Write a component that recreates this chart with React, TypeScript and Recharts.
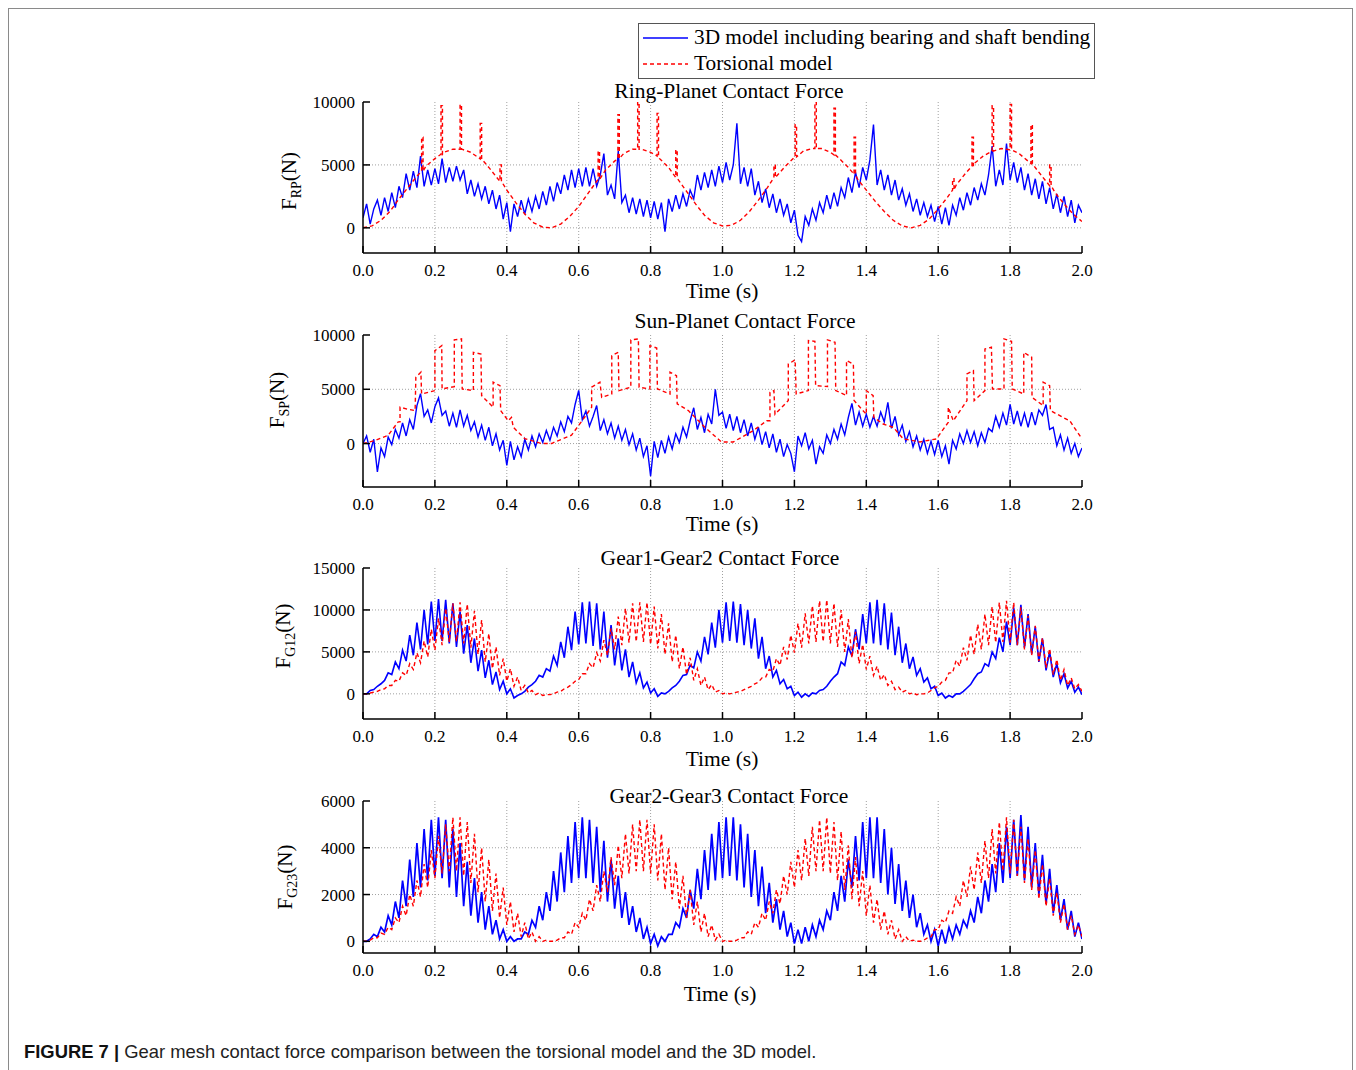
import React from "react";
import { LineChart, Line, XAxis, YAxis, CartesianGrid } from "recharts";

const SERIF = '"Liberation Serif", "Times New Roman", Times, serif';
const SANS = '"Liberation Sans", Arial, Helvetica, sans-serif';

const TIME_TICKS = [0, 0.2, 0.4, 0.6, 0.8, 1.0, 1.2, 1.4, 1.6, 1.8, 2.0];
const TIME_GRID = [0.2, 0.4, 0.6, 0.8, 1.0, 1.2, 1.4, 1.6, 1.8];

const RP_TICKS = [0, 5000, 10000];
const SP_TICKS = [0, 5000, 10000];
const G12_TICKS = [0, 5000, 10000, 15000];
const G23_TICKS = [0, 2000, 4000, 6000];

// ---------- Ring-Planet (3D model, sampled every 0.01 s) ----------
const RP_BLUE = [
  800, 1900, 300, 1500, 2200, 1000, 2400, 1300, 2800, 1600,
  3300, 2400, 4300, 3000, 4500, 3200, 5700, 3300, 4600, 3400,
  4700, 3500, 5500, 3600, 4800, 3700, 4900, 3800, 4600, 2700,
  3800, 2500, 3500, 2300, 3300, 1900, 3000, 1500, 2600, 700,
  2000, -300, 1900, 900, 2200, 1100, 2300, 1300, 2500, 1500,
  2900, 1800, 3300, 2100, 3600, 2700, 4200, 3000, 4600, 3200,
  4700, 3300, 4800, 3300, 4700, 3300, 4200, 5900, 2600, 3400,
  2300, 6100, 2000, 2600, 1200, 2400, 1100, 2300, 900, 2200,
  800, 2100, 700, 2000, -300, 2300, 1300, 2600, 1500, 2700,
  1700, 3000, 2300, 4200, 3000, 4400, 3200, 4600, 3300, 4900,
  3600, 5200, 3800, 5000, 8300, 3500, 4800, 3300, 4700, 2600,
  3700, 2000, 3100, 1600, 2700, 1200, 2300, 1000, 1900, 400,
  1400, -600, -1100, 900, 200, 1500, 600, 2000, 1200, 2600,
  1500, 2800, 1700, 3200, 2400, 4000, 2800, 4400, 3200, 4800,
  3800, 5400, 8200, 3400, 4600, 3000, 4200, 2600, 3800, 2200,
  3100, 1800, 2700, 1300, 2300, 1000, 2000, 900, 1800, 500,
  1700, 300, 1600, 200, 1800, 1000, 2400, 1400, 2800, 1800,
  3200, 2200, 3500, 2600, 4200, 6500, 3300, 4600, 3400, 6700,
  3800, 5200, 3600, 4800, 3000, 4300, 2600, 3900, 2300, 3700,
  1900, 3200, 1500, 2700, 1200, 2500, 900, 2200, 400, 1800,
  1200,
];

// Torsional model: smooth curve every 0.025 s, plus spikes [time, base, top]
const RP_RED_BASE = [
  0, 150, 600, 1300, 2300, 3200, 4100, 4900, 5500, 6000,
  6250, 6250, 6000, 5500, 4800, 3900, 3000, 2000, 1100, 400,
  50, 0, 300, 900, 1700, 2700, 3700, 4600, 5300, 5900,
  6250, 6250, 6000, 5500, 4800, 3900, 2900, 1900, 1000, 400,
  150, 200, 600, 1300, 2200, 3200, 4100, 4900, 5600, 6100,
  6300, 6300, 6000, 5500, 4800, 3900, 3000, 2100, 1300, 600,
  150, 0, 200, 700, 1500, 2400, 3400, 4300, 5100, 5700,
  6100, 6300, 6200, 5900, 5300, 4600, 3700, 2800, 1900, 1100,
  500,
];
const RP_RED_SPIKES = [
  [0.163, 4500, 7200], [0.217, 5850, 9700], [0.27, 6250, 9800], [0.326, 5480, 8300], [0.381, 3700, 5000],
  [0.654, 3850, 6100], [0.709, 5500, 9000], [0.764, 6250, 10000], [0.818, 5700, 9100], [0.87, 4000, 6200],
  [1.143, 4000, 5000], [1.202, 5640, 8200], [1.257, 6300, 10000], [1.31, 5800, 9500], [1.366, 4250, 7200],
  [1.64, 3000, 3900], [1.694, 4900, 7200], [1.75, 6100, 9700], [1.8, 6200, 9800], [1.858, 5100, 8200], [1.91, 3350, 5000],
];

// ---------- Sun-Planet ----------
const SP_BLUE = [
  0, 700, -800, 400, -2600, -400, -1200, 600, -100, 1300,
  500, 1900, 700, 2200, 1300, 3500, 4600, 2500, 3100, 1900,
  3400, 4200, 2600, 3000, 1600, 2800, 1500, 3100, 1600, 2600,
  1200, 2000, 600, 1700, 300, 1500, -200, 900, -600, 300,
  -2000, 200, -1500, -300, -1200, 400, -600, 700, -300, 900,
  100, 1200, 300, 1500, 700, 2000, 1100, 2500, 1900, 3600,
  4900, 2200, 3000, 1600, 2500, 3500, 1200, 2200, 900, 1900,
  500, 1600, 300, 1300, -100, 900, -600, 500, -1200, -200,
  -3000, 200, -1300, 300, -900, 600, -500, 900, 100, 1500,
  600, 2100, 3300, 1300, 2400, 1000, 2700, 1800, 5000, 2600,
  2900, 1400, 2700, 1200, 2500, 1000, 2200, 700, 1900, 400,
  1500, -100, 1100, -400, 900, -800, 400, -1200, -100, -900,
  -2600, 700, -200, 1000, -500, 300, -1900, -300, -900, 800,
  0, 1300, 400, 1800, 800, 2400, 3700, 1700, 2900, 1600,
  2700, 1500, 2500, 1600, 2900, 2000, 3800, 1400, 2500, 800,
  1700, 200, 1100, -300, 700, -600, 400, -900, 200, -1000,
  300, -1200, -200, -1900, 300, -500, 900, 0, 1200, 100,
  1100, -200, 1000, 100, 1400, 1100, 2500, 1500, 2800, 1700,
  3600, 1800, 3000, 1600, 2800, 1500, 2900, 1700, 3100, 2600,
  3600, 1300, 1500, -200, 800, -600, 500, -900, 0, -1200,
  -400,
];

// Torsional model [time, force]
const SP_RED = [
  [0, 0], [0.035, 300], [0.07, 770], [0.098, 2000], [0.103, 2000], [0.103, 3350], [0.12, 3200], [0.145, 3040],
  [0.147, 6100], [0.161, 6570], [0.163, 4570], [0.2, 4880], [0.2, 8560], [0.219, 9020], [0.22, 5030],
  [0.254, 5250], [0.254, 9550], [0.274, 9640], [0.276, 5030], [0.307, 4880], [0.307, 8400], [0.328, 8250],
  [0.33, 4420], [0.362, 3350], [0.362, 5650], [0.381, 5340], [0.383, 3040], [0.404, 2100], [0.413, 2400],
  [0.418, 1500], [0.45, 460], [0.497, 0], [0.525, 0],
  [0.534, 150], [0.58, 770], [0.617, 2450], [0.636, 3350], [0.636, 5200], [0.659, 5650], [0.664, 4260],
  [0.692, 4570], [0.692, 8100], [0.71, 8400], [0.712, 4880], [0.745, 5190], [0.745, 9550], [0.766, 9640],
  [0.768, 5190], [0.798, 5030], [0.798, 9020], [0.817, 8800], [0.819, 5030], [0.854, 4570], [0.854, 6570],
  [0.872, 6260], [0.874, 3660], [0.905, 3040], [0.951, 1500], [0.997, 150],
  [1.03, 150], [1.086, 1200], [1.123, 2100], [1.132, 2100], [1.132, 4720], [1.143, 4880], [1.146, 2700],
  [1.183, 3960], [1.183, 7330], [1.202, 7700], [1.205, 4570], [1.239, 4880], [1.239, 9480], [1.257, 9420],
  [1.259, 5340], [1.292, 5250], [1.292, 9550], [1.313, 9330], [1.315, 4880], [1.345, 4420], [1.345, 7640],
  [1.364, 7330], [1.366, 3960], [1.4, 2700], [1.4, 4880], [1.419, 4420], [1.421, 2400], [1.447, 1800],
  [1.475, 1500], [1.503, 430], [1.549, 150], [1.595, 430],
  [1.628, 1960], [1.628, 3350], [1.642, 2100], [1.68, 3960], [1.68, 6410], [1.698, 6720], [1.7, 3960],
  [1.73, 4880], [1.73, 8710], [1.748, 8870], [1.751, 5030], [1.783, 5030], [1.783, 9640], [1.804, 9420],
  [1.806, 5030], [1.838, 4570], [1.838, 8400], [1.86, 7950], [1.861, 4260], [1.892, 3500], [1.892, 5650],
  [1.91, 5340], [1.912, 3040], [1.948, 2400], [1.966, 2100], [2.0, 430],
];

// ---------- Gear1-Gear2 (low points every 0.02 s, high points in between) ----------
const G12_BLUE_LOW = [
  0, 400, 900, 1600, 2300, 3000, 3900, 4600, 5300, 5900,
  6300, 6300, 6000, 5600, 4800, 3700, 2700, 1900, 1100, 500,
  0, -500, 0, 800, 1500, 2000, 2700, 3400, 4300, 5200,
  5900, 6000, 5700, 5300, 4300, 3400, 2800, 2000, 1300, 700,
  100, -300, 0, 700, 1500, 2300, 3100, 3900, 4700, 5500,
  6100, 6300, 6100, 5800, 5400, 4200, 3000, 2000, 1200, 600,
  -200, -400, -300, 0, 500, 1500, 2400, 3400, 4500, 5300,
  6000, 6000, 5800, 5300, 4600, 3700, 3000, 2200, 1400, 600,
  -200, -500, -400, 0, 700, 1800, 2600, 3300, 4200, 5000,
  5800, 5800, 5500, 4800, 3800, 2800, 2000, 1300, 700, 200,
  -100,
];
const G12_BLUE_HIGH = [
  0, 500, 1200, 2500, 3800, 5200, 7000, 8500, 10000, 11000,
  11300, 11200, 10800, 9800, 8200, 6600, 5200, 4000, 2600, 1500,
  600, -200, 300, 1100, 2200, 3000, 4500, 6200, 8000, 9800,
  10900, 11000, 10800, 9800, 8200, 6600, 5300, 3800, 2500, 1400,
  600, 100, 300, 1000, 2200, 3400, 5000, 6800, 8500, 10000,
  10900, 11000, 10700, 10000, 9000, 6800, 4500, 2800, 1700, 900,
  200, 0, 100, 400, 900, 2000, 3800, 5600, 7700, 9500,
  10900, 11200, 10800, 9700, 8000, 6000, 4400, 3000, 1900, 900,
  100, -200, 0, 300, 1100, 2400, 3600, 5000, 6700, 8600,
  10300, 10600, 9500, 8000, 6600, 5000, 3600, 2400, 1500, 800,
];
const G12_RED_LOW = [
  0, 100, 300, 600, 1000, 1500, 2200, 2900, 3700, 4400,
  5200, 5800, 6200, 6200, 6000, 5500, 4700, 3800, 3000, 2200,
  1500, 900, 400, 100, -100, -200, -100, 200, 600, 1100,
  1700, 2400, 3100, 3900, 4600, 5300, 5800, 6100, 6200, 6200,
  5900, 5400, 4700, 3800, 3000, 2300, 1600, 1000, 500, 200,
  0, 0, 200, 500, 900, 1400, 2000, 2700, 3400, 4100,
  4900, 5500, 6000, 6200, 6200, 6000, 5600, 5000, 4300, 3600,
  2900, 2200, 1600, 1000, 500, 200, 0, -100, 0, 400,
  900, 1600, 2500, 3300, 4000, 4700, 5300, 5800, 6100, 6200,
  6100, 5800, 5300, 4600, 3900, 3100, 2300, 1600, 1000, 600,
  300,
];
const G12_RED_HIGH = [
  0, 200, 500, 1000, 1600, 2500, 3600, 4900, 6300, 7700,
  9000, 10200, 10800, 10900, 10700, 9900, 8800, 7200, 5600, 4200,
  3000, 2000, 1000, 400, 100, -100, 0, 300, 800, 1500,
  2400, 3600, 4900, 6400, 7800, 9200, 10200, 10800, 10900, 10900,
  10400, 9500, 8400, 7000, 5600, 4300, 3000, 2000, 1100, 400,
  100, 100, 300, 700, 1200, 1900, 2900, 4200, 5600, 7000,
  8400, 9600, 10500, 11100, 11200, 10800, 10000, 8900, 7400, 5900,
  4500, 3300, 2300, 1500, 800, 400, 100, 0, 100, 700,
  1400, 2500, 4000, 5500, 7000, 8300, 9500, 10400, 10900, 11100,
  10900, 10300, 9300, 8100, 6700, 5400, 4100, 2900, 1900, 1100,
];

// ---------- Gear2-Gear3 ----------
const G23_BLUE_LOW = [
  0, 100, 200, 400, 700, 1000, 1500, 1900, 2300, 2600,
  2800, 2700, 2300, 1900, 1500, 1100, 800, 500, 300, 100,
  0, 0, 100, 300, 600, 900, 1300, 1700, 2100, 2500,
  2700, 2700, 2500, 2100, 1700, 1400, 1000, 700, 400, 100,
  -100, -200, 0, 300, 600, 1000, 1400, 1800, 2200, 2600,
  2700, 2800, 2600, 2300, 1900, 1500, 1200, 800, 500, 200,
  -100, -100, 0, 200, 500, 900, 1300, 1700, 2300, 2600,
  2700, 2700, 2500, 2000, 1600, 1300, 1000, 600, 300, 0,
  -200, -100, 100, 300, 600, 800, 1200, 1700, 2100, 2500,
  2700, 2800, 2600, 2300, 2000, 1600, 1200, 900, 500, 200,
  100,
];
const G23_BLUE_HIGH = [
  0, 300, 600, 1100, 1700, 2600, 3500, 4200, 4800, 5200,
  5300, 5200, 4800, 4200, 3400, 2700, 2100, 1500, 900, 500,
  200, 100, 400, 900, 1500, 2100, 3000, 3800, 4500, 5100,
  5300, 5200, 4900, 4300, 3500, 2800, 2100, 1500, 1000, 600,
  300, 200, 300, 800, 1400, 2200, 3100, 3900, 4600, 5100,
  5300, 5300, 5000, 4600, 3900, 3200, 2500, 1800, 1300, 800,
  500, 600, 700, 900, 1300, 2100, 2800, 3500, 4500, 5100,
  5300, 5300, 4800, 4000, 3300, 2600, 2000, 1200, 700, 500,
  500, 600, 700, 900, 1300, 1900, 2600, 3300, 4200, 4900,
  5200, 5400, 4900, 4200, 3700, 3100, 2400, 1800, 1300, 800,
];
const G23_RED_LOW = [
  0, 50, 150, 300, 500, 800, 1100, 1500, 1900, 2300,
  2700, 2900, 3000, 3000, 2800, 2500, 2100, 1700, 1300, 1000,
  700, 400, 200, 100, 0, 0, 0, 50, 150, 300,
  600, 900, 1300, 1700, 2100, 2400, 2700, 2900, 3000, 3000,
  2900, 2600, 2200, 1800, 1400, 1000, 700, 400, 200, 50,
  0, 0, 50, 150, 300, 600, 900, 1200, 1600, 2000,
  2300, 2600, 2800, 3000, 3000, 2900, 2600, 2200, 1800, 1500,
  1100, 800, 500, 300, 100, 0, 0, 0, 50, 200,
  500, 800, 1200, 1500, 1900, 2200, 2500, 2700, 2900, 3000,
  2900, 2800, 2500, 2200, 1800, 1500, 1100, 800, 500, 300,
  200,
];
const G23_RED_HIGH = [
  0, 150, 350, 600, 1000, 1500, 2000, 2600, 3300, 3900,
  4500, 5000, 5300, 5300, 5100, 4600, 4000, 3500, 2900, 2300,
  1700, 1200, 800, 400, 200, 50, 0, 150, 400, 800,
  1200, 1800, 2400, 3000, 3600, 4100, 4600, 5000, 5200, 5200,
  5000, 4600, 4000, 3400, 2800, 2200, 1700, 1200, 700, 300,
  50, 0, 150, 400, 800, 1200, 1700, 2200, 2800, 3400,
  3900, 4400, 4900, 5200, 5300, 5100, 4700, 4100, 3600, 3000,
  2400, 1800, 1300, 900, 500, 200, 50, 0, 150, 500,
  900, 1300, 1900, 2600, 3200, 3800, 4300, 4800, 5100, 5300,
  5200, 4900, 4400, 3900, 3300, 2700, 2100, 1600, 1100, 700,
];

type Pt = { t: number; v: number };

const uniform = (vals: number[], step: number): Pt[] =>
  vals.map((v, i) => ({ t: Math.round(i * step * 10000) / 10000, v }));

const interleave = (low: number[], high: number[], step: number): Pt[] => {
  const out: Pt[] = [];
  low.forEach((v, k) => {
    out.push({ t: Math.round(k * step * 10000) / 10000, v });
    if (k < high.length) out.push({ t: Math.round((k * step + step / 2) * 10000) / 10000, v: high[k] });
  });
  return out;
};

const withSpikes = (base: number[], step: number, spikes: number[][], w: number): Pt[] => {
  const pts = uniform(base, step);
  spikes.forEach(([t, b, top]) => {
    pts.push({ t, v: b }, { t, v: top }, { t: t + w, v: top }, { t: t + w, v: b });
  });
  return pts.sort((a, b) => a.t - b.t);
};

const pairs = (list: number[][]): Pt[] => list.map(([t, v]) => ({ t, v }));

const rpBlue = uniform(RP_BLUE, 0.01);
const rpRed = withSpikes(RP_RED_BASE, 0.025, RP_RED_SPIKES, 0.004);
const spBlue = uniform(SP_BLUE, 0.01);
const spRed = pairs(SP_RED);
const g12Blue = interleave(G12_BLUE_LOW, G12_BLUE_HIGH, 0.02);
const g12Red = interleave(G12_RED_LOW, G12_RED_HIGH, 0.02);
const g23Blue = interleave(G23_BLUE_LOW, G23_BLUE_HIGH, 0.02);
const g23Red = interleave(G23_RED_LOW, G23_RED_HIGH, 0.02);

function XTick(props: any) {
  const { x, y, payload } = props;
  return (
    <g>
      <line x1={x} y1={y} x2={x} y2={y - 7} stroke="#000" strokeWidth={1.5} />
      <text x={x} y={y + 23} textAnchor="middle" fontFamily={SERIF} fontSize={17} fill="#000">
        {Number(payload.value).toFixed(1)}
      </text>
    </g>
  );
}

function YTick(props: any) {
  const { x, y, payload } = props;
  return (
    <g>
      <line x1={x} y1={y} x2={x + 7} y2={y} stroke="#000" strokeWidth={1.5} />
      <text x={x - 8} y={y + 6} textAnchor="end" fontFamily={SERIF} fontSize={17} fill="#000">
        {payload.value}
      </text>
    </g>
  );
}

function Panel(props: {
  plotTop: number;
  plotH: number;
  domain: number[];
  yTicks: number[];
  gridY: number[];
  blue: Pt[];
  red: Pt[];
  blueWidth: number;
}) {
  const { plotTop, plotH, domain, yTicks, gridY, blue, red, blueWidth } = props;
  return (
    <div style={{ position: "absolute", left: 0, top: plotTop - 10 }}>
      <LineChart width={1356} height={plotH + 50} margin={{ top: 10, right: 274, bottom: 0, left: 0 }}>
        <CartesianGrid
          stroke="#a0a0a0"
          strokeDasharray="1 2"
          horizontalValues={gridY}
          verticalValues={TIME_GRID}
        />
        <XAxis
          type="number"
          dataKey="t"
          domain={[0, 2]}
          ticks={TIME_TICKS}
          interval={0}
          tickSize={0}
          tickMargin={0}
          tickLine={false}
          tick={<XTick />}
          axisLine={{ stroke: "#000", strokeWidth: 1.5 }}
          height={40}
          allowDataOverflow
        />
        <YAxis
          type="number"
          domain={domain}
          ticks={yTicks}
          interval={0}
          tickSize={0}
          tickMargin={0}
          tickLine={false}
          tick={<YTick />}
          axisLine={{ stroke: "#000", strokeWidth: 1.5 }}
          width={363}
          allowDataOverflow
        />
        <Line
          data={blue}
          dataKey="v"
          type="linear"
          stroke="#0000ff"
          strokeWidth={blueWidth}
          dot={false}
          activeDot={false}
          isAnimationActive={false}
        />
        <Line
          data={red}
          dataKey="v"
          type="linear"
          stroke="#ff0000"
          strokeWidth={1.4}
          strokeDasharray="4 3"
          dot={false}
          activeDot={false}
          isAnimationActive={false}
        />
      </LineChart>
    </div>
  );
}

const centered = (cx: number, cy: number, extra: React.CSSProperties = {}): React.CSSProperties => ({
  position: "absolute",
  left: cx,
  top: cy,
  transform: "translate(-50%, -50%)",
  whiteSpace: "nowrap",
  fontFamily: SERIF,
  fontSize: 21.5,
  lineHeight: 1,
  color: "#000",
  ...extra,
});

function YLabel({ cx, cy, sub }: { cx: number; cy: number; sub: string }) {
  return (
    <div style={centered(cx, cy, { fontSize: 21, transform: "translate(-50%, -50%) rotate(-90deg)" })}>
      F<span style={{ fontSize: 14, position: "relative", top: 5 }}>{sub}</span>(N)
    </div>
  );
}

export default function App() {
  return (
    <div style={{ position: "relative", width: 1356, height: 1070, background: "#fff", overflow: "hidden" }}>
      <style>{"body{margin:0;background:#fff}"}</style>
      <div
        style={{
          position: "absolute",
          left: 8,
          top: 8,
          width: 1345,
          height: 1100,
          boxSizing: "border-box",
          borderTop: "1px solid #8a8a8a",
          borderLeft: "1px solid #8a8a8a",
          borderRight: "1px solid #8a8a8a",
        }}
      />

      {/* Legend */}
      <div
        style={{
          position: "absolute",
          left: 638,
          top: 23,
          width: 457,
          height: 56,
          boxSizing: "border-box",
          border: "1px solid #555",
          background: "#fff",
        }}
      >
        <svg width={60} height={54} style={{ position: "absolute", left: 0, top: 0 }}>
          <line x1={4} y1={14} x2={49} y2={14} stroke="#0000ff" strokeWidth={1.4} />
          <line x1={4} y1={40} x2={49} y2={40} stroke="#ff0000" strokeWidth={1.4} strokeDasharray="4 3" />
        </svg>
        <div style={{ position: "absolute", left: 55, top: 3, fontFamily: SERIF, fontSize: 21.3, lineHeight: "21px", whiteSpace: "nowrap" }}>
          3D model including bearing and shaft bending
        </div>
        <div style={{ position: "absolute", left: 55, top: 29, fontFamily: SERIF, fontSize: 21.3, lineHeight: "21px", whiteSpace: "nowrap" }}>
          Torsional model
        </div>
      </div>

      {/* Panel titles */}
      <div style={centered(729, 92)}>Ring-Planet Contact Force</div>
      <div style={centered(745, 322)}>Sun-Planet Contact Force</div>
      <div style={centered(720, 559)}>Gear1-Gear2 Contact Force</div>
      <div style={centered(729, 797)}>Gear2-Gear3 Contact Force</div>

      <Panel plotTop={102} plotH={151} domain={[-2000, 10000]} yTicks={RP_TICKS} gridY={[0, 5000]} blue={rpBlue} red={rpRed} blueWidth={1.4} />
      <Panel plotTop={335} plotH={152} domain={[-4000, 10000]} yTicks={SP_TICKS} gridY={[0, 5000]} blue={spBlue} red={spRed} blueWidth={1.4} />
      <Panel plotTop={568} plotH={151} domain={[-3000, 15000]} yTicks={G12_TICKS} gridY={[0, 5000, 10000]} blue={g12Blue} red={g12Red} blueWidth={1.6} />
      <Panel plotTop={801} plotH={152} domain={[-500, 6000]} yTicks={G23_TICKS} gridY={[0, 2000, 4000]} blue={g23Blue} red={g23Red} blueWidth={1.7} />

      {/* Axis titles */}
      <div style={centered(722, 292)}>Time (s)</div>
      <div style={centered(722, 525)}>Time (s)</div>
      <div style={centered(722, 760)}>Time (s)</div>
      <div style={centered(720, 995)}>Time (s)</div>

      <YLabel cx={289} cy={181} sub="RP" />
      <YLabel cx={277} cy={400} sub="SP" />
      <YLabel cx={283} cy={636} sub="G12" />
      <YLabel cx={285} cy={877} sub="G23" />

      {/* Caption */}
      <div
        style={{
          position: "absolute",
          left: 24,
          top: 1041,
          fontFamily: SANS,
          fontSize: 18.4,
          lineHeight: "22px",
          color: "#222",
          whiteSpace: "nowrap",
        }}
      >
        <b style={{ color: "#111" }}>FIGURE 7 |</b> Gear mesh contact force comparison between the torsional model and the 3D model.
      </div>
    </div>
  );
}
